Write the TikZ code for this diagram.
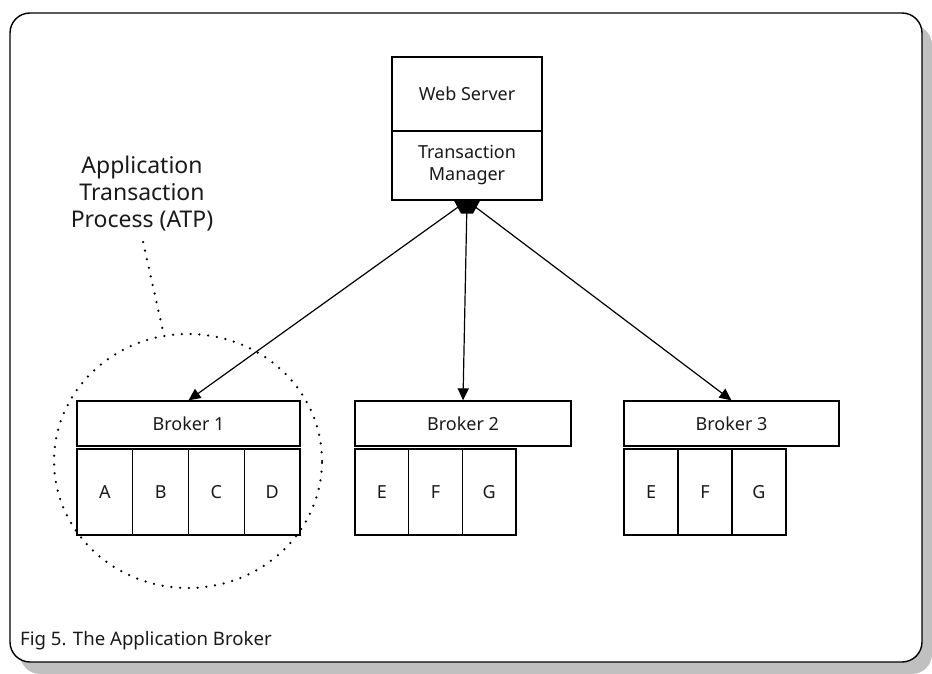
\documentclass[tikz,border=0pt]{standalone}
\usepackage{fontspec}
\setmainfont{Noto Sans}
\usetikzlibrary{arrows.meta,calc,shapes.geometric}
\definecolor{shadowgray}{HTML}{C0C0C0}
\definecolor{inkgray}{HTML}{1A1A1A}
\tikzset{
  frame/.style={draw=black, line width=1.4pt, fill=white, rounded corners=20pt},
  box/.style={draw=black, line width=1.3pt, fill=white, inner sep=0pt,
    text=inkgray, font=\fontsize{18}{22}\selectfont, align=center},
  wsbox/.style={box, minimum width=150pt},
  brokerbox/.style={box, minimum height=45pt},
  cellbox/.style={box, minimum height=86pt},
  link/.style={line width=1.2pt, -{Triangle[length=12pt,width=11pt]}},
  dotline/.style={line width=2.5pt, line cap=round, dash pattern=on 0pt off 8.8pt},
  caption/.style={text=inkgray, inner sep=0pt}
}
\begin{document}
\begin{tikzpicture}[x=1pt,y=-1pt]
\useasboundingbox (0,0) rectangle (932,674);

% drop shadow and outer frame
\fill[shadowgray, rounded corners=20pt] (20,25) rectangle (932,674);
\draw[frame] (10,13) rectangle (922,662);

% ATP grouping outline
\node[ellipse, draw, dotline, inner sep=0pt, minimum width=268pt, minimum height=254pt] (atp) at (188,461) {};

% web server / transaction manager stack
\node[wsbox, minimum height=74pt] (ws) at (467,94) {Web Server};
\node[wsbox, minimum height=69pt] (tm) at (467,165.5) {Transaction\\Manager};

% broker 1 with its four application processes
\node[brokerbox, minimum width=223pt] (b1) at (188.5,423.5) {Broker 1};
\node[cellbox, minimum width=55.75pt] (b1a) at (104.9,492) {A};
\node[cellbox, minimum width=55.75pt] (b1b) at (160.6,492) {B};
\node[cellbox, minimum width=55.75pt] (b1c) at (216.4,492) {C};
\node[cellbox, minimum width=55.75pt] (b1d) at (272.1,492) {D};

% broker 2
\node[brokerbox, minimum width=216pt] (b2) at (463,423.5) {Broker 2};
\node[cellbox, minimum width=53.7pt] (b2e) at (381.8,492) {E};
\node[cellbox, minimum width=53.7pt] (b2f) at (435.5,492) {F};
\node[cellbox, minimum width=53.7pt] (b2g) at (489.2,492) {G};

% broker 3
\node[brokerbox, minimum width=215pt] (b3) at (731.5,423.5) {Broker 3};
\node[cellbox, minimum width=54pt] (b3e) at (651,492) {E};
\node[cellbox, minimum width=54pt] (b3f) at (705,492) {F};
\node[cellbox, minimum width=54pt] (b3g) at (759,492) {G};

% connectors from the transaction manager to the brokers
\draw[link] (tm.south) -- (b1.north);
\draw[link] (tm.south) -- (b2.north);
\draw[link] (tm.south) -- (b3.north);
\fill[black] ($(tm.south)+(-13,0)$) -- ($(tm.south)+(13,0)$)
  -- ($(tm.south)+(6,13)$) -- ($(tm.south)+(-6,13)$) -- cycle;

% ATP label and its dotted leader
\node[caption, align=center, font=\fontsize{23}{27}\selectfont, anchor=center] (atplabel)
  at (142,194) {Application\\Transaction\\Process (ATP)};
\coordinate (leadtop) at (143,242);
\coordinate (leadbot) at (163,331);
\draw[dotline] (leadtop) -- (leadbot);

% figure caption
\node[caption, anchor=base west, font=\fontsize{18.6}{22}\selectfont] (figcap) at (20,645)
  {Fig 5. The Application Broker};
\end{tikzpicture}
\end{document}
